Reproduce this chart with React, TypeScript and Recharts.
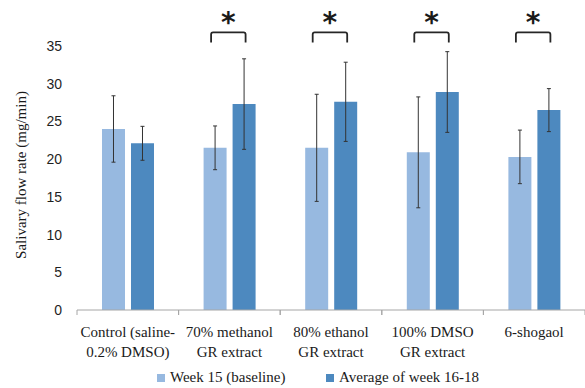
import { Bar, BarChart, ErrorBar, Legend, XAxis, YAxis } from "recharts";

const categories = [
  "Control (saline-\n0.2% DMSO)",
  "70% methanol\nGR extract",
  "80% ethanol\nGR extract",
  "100% DMSO\nGR extract",
  "6-shogaol",
];
const week15 = [24.0, 21.5, 21.5, 20.9, 20.3];
const week15Err = [4.4, 2.9, 7.1, 7.35, 3.55];
const average = [22.1, 27.3, 27.6, 28.9, 26.5];
const averageErr = [2.25, 6.0, 5.25, 5.35, 2.85];
const significant = [false, true, true, true, true];
const yTicks = [0, 5, 10, 15, 20, 25, 30, 35];

const seriesNames = ["Week 15 (baseline)", "Average of week 16-18"];
const colors = ["#97B9E0", "#4D89BF"];

const serif = "'Liberation Serif', 'DejaVu Serif', serif";
const BAR_GAP = 6;
const BRACKET_LEVEL = 36.8;
const BRACKET_FOOT = 35.45;
const STAR_LEVEL = 39.0;

const data = categories.map((name, i) => ({
  name,
  week15: week15[i],
  week15Err: week15Err[i],
  average: average[i],
  averageErr: averageErr[i],
}));

const CategoryTick = (props: any) => {
  const { x, y, payload } = props;
  const half = payload.offset ?? 0;
  const lines = String(payload.value).split("\n");
  return (
    <g>
      <line x1={x - half} x2={x - half} y1={y - 8} y2={y - 3} stroke="#A6A6A6" />
      <line x1={x + half} x2={x + half} y1={y - 8} y2={y - 3} stroke="#A6A6A6" />
      <text x={x} y={y} textAnchor="middle" fontFamily={serif} fontSize={15} fill="#1a1a1a">
        {lines.map((l, i) => (
          <tspan key={i} x={x} dy={i === 0 ? 19 : 20}>
            {l}
          </tspan>
        ))}
      </text>
    </g>
  );
};

// significance bracket + star drawn over each significant pair
const Bracket = (props: any) => {
  const { x, y, width, height, value, index } = props;
  if (!significant[index] || !value) return null;
  const s = height / value;
  const base = y + height;
  const left = x - BAR_GAP - width / 2 - 4;
  const right = x + width / 2 + 1.5;
  const top = base - BRACKET_LEVEL * s;
  const foot = base - BRACKET_FOOT * s;
  const star = base - STAR_LEVEL * s;
  return (
    <g>
      <path
        d={`M${left},${foot} L${left},${top + 2} Q${left},${top} ${left + 2},${top} L${right - 2},${top} Q${right},${top} ${right},${top + 2} L${right},${foot}`}
        fill="none"
        stroke="#262626"
        strokeWidth={1.8}
      />
      <text
        x={(left + right) / 2}
        y={star + 16}
        textAnchor="middle"
        fontFamily="'DejaVu Sans', sans-serif"
        fontWeight="bold"
        fontSize={28}
        fill="#1a1a1a"
      >
        *
      </text>
    </g>
  );
};

const LegendContent = () => (
  <div style={{ position: "relative", height: 20, fontFamily: serif, fontSize: 15, color: "#1a1a1a" }}>
    {seriesNames.map((n, i) => (
      <div
        key={n}
        style={{ position: "absolute", left: i === 0 ? 157 : 326, top: 0, display: "flex", alignItems: "center", whiteSpace: "nowrap" }}
      >
        <span style={{ display: "inline-block", width: 8, height: 8, background: colors[i], marginRight: 5 }} />
        <span>{n}</span>
      </div>
    ))}
  </div>
);

const YTitle = () => (
  <text
    x={21}
    y={175}
    transform="rotate(-90, 21, 175)"
    textAnchor="middle"
    dominantBaseline="central"
    fontFamily={serif}
    fontSize={15}
    fill="#1a1a1a"
  >
    Salivary flow rate (mg/min)
  </text>
);

export default function App() {
  return (
    <div style={{ position: "absolute", left: 0, top: 0, background: "#fff" }}>
      <BarChart
        width={585}
        height={388}
        data={data}
        margin={{ top: 46, right: 0, left: 0, bottom: 0 }}
        barCategoryGap="24.6%"
        barGap={BAR_GAP}
      >
        <XAxis
          dataKey="name"
          interval={0}
          height={78}
          axisLine={{ stroke: "#A6A6A6" }}
          tickLine={false}
          tick={<CategoryTick />}
        />
        <YAxis
          width={77}
          domain={[0, 35]}
          ticks={yTicks}
          axisLine={false}
          tickLine={false}
          tickSize={0}
          tickMargin={15}
          tick={{ fontSize: 14, fill: "#1f1f1f", fontFamily: "'Liberation Sans', Arial, sans-serif" }}
          label={<YTitle />}
        />
        <Legend
          verticalAlign="middle"
          align="center"
          wrapperStyle={{ top: 369, left: 0, width: 585, height: 20 }}
          content={<LegendContent />}
        />
        <Bar dataKey="week15" name={seriesNames[0]} fill={colors[0]} isAnimationActive={false}>
          <ErrorBar dataKey="week15Err" width={2} stroke="#333" strokeWidth={1} />
        </Bar>
        <Bar dataKey="average" name={seriesNames[1]} fill={colors[1]} isAnimationActive={false} label={<Bracket />}>
          <ErrorBar dataKey="averageErr" width={2} stroke="#333" strokeWidth={1} />
        </Bar>
      </BarChart>
    </div>
  );
}
